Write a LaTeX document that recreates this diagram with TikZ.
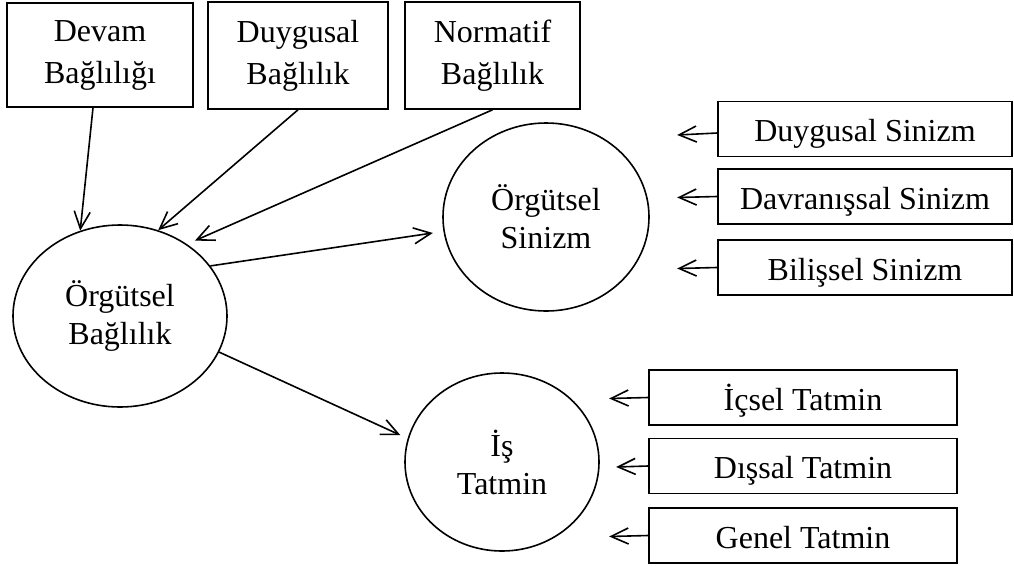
\documentclass[tikz,border=0pt]{standalone}
\usepackage{fontspec}
\setmainfont{Liberation Serif}
\usetikzlibrary{shapes.geometric,arrows.meta}
\begin{document}
\begin{tikzpicture}[x=0.75pt,y=-0.75pt,line width=1.2pt,
  box/.style={draw,rectangle,inner sep=0pt,align=center,font=\fontsize{24}{31.5}\selectfont},
  sbox/.style={draw,rectangle,inner sep=0pt,align=center,font=\fontsize{24}{28}\selectfont,minimum height=41pt,text height=19pt,text depth=0pt},
  oval/.style={draw,ellipse,inner sep=0pt,align=center,font=\fontsize{24}{28.5}\selectfont},
  arr/.style={-{Straight Barb[length=13pt,width=12pt]}}]
\useasboundingbox (0,0) rectangle (1014,565);
% top boxes
\node[box,minimum width=139.5pt,minimum height=78pt] (dev) at (100,55) {Devam\\Bağlılığı};
\node[box,minimum width=135pt,minimum height=80.25pt] (duy) at (298,55.5) {Duygusal\\Bağlılık};
\node[box,minimum width=131.25pt,minimum height=80.25pt] (nor) at (492.5,55.5) {Normatif\\Bağlılık};
% ellipses
\node[oval,minimum width=160.5pt,minimum height=136.5pt] (ob) at (120,316) {Örgütsel\\Bağlılık};
\node[oval,minimum width=154.5pt,minimum height=141pt] (os) at (546,217) {Örgütsel\\Sinizm};
\node[oval,minimum width=145.5pt,minimum height=133.5pt] (is) at (502,462) {İş\\Tatmin};
% sinizm boxes
\node[sbox,minimum width=220.5pt] (s1) at (865,129) {Duygusal Sinizm};
\node[sbox,minimum width=220.5pt] (s2) at (865,196.5) {Davranışsal Sinizm};
\node[sbox,minimum width=220.5pt] (s3) at (865,267.5) {Bilişsel Sinizm};
% tatmin boxes
\node[sbox,minimum width=231pt] (t1) at (803,397.5) {İçsel Tatmin};
\node[sbox,minimum width=231pt] (t2) at (803,466) {Dışsal Tatmin};
\node[sbox,minimum width=231pt] (t3) at (803,535.5) {Genel Tatmin};
% connectors
\draw[arr] ([xshift=-5.25pt]dev.south) -- (ob.115);
\draw[arr] (duy.south) -- (ob.66);
\draw[arr,shorten >=6.5pt] (nor.south) -- (ob.47);
\draw[arr,shorten >=8pt] (ob.29) -- (os.188);
\draw[arr,shorten >=6pt] (ob.340) -- (is.166);
\draw[arr] ([yshift=-3pt]s1.west) -- ++(-40,2);
\draw[arr] (s2.west) -- ++(-40,1);
\draw[arr] (s3.west) -- ++(-40,1);
\draw[arr] (t1.west) -- ++(-39,1);
\draw[arr] (t2.west) -- ++(-32,1);
\draw[arr] (t3.west) -- ++(-39,1);
\end{tikzpicture}
\end{document}
